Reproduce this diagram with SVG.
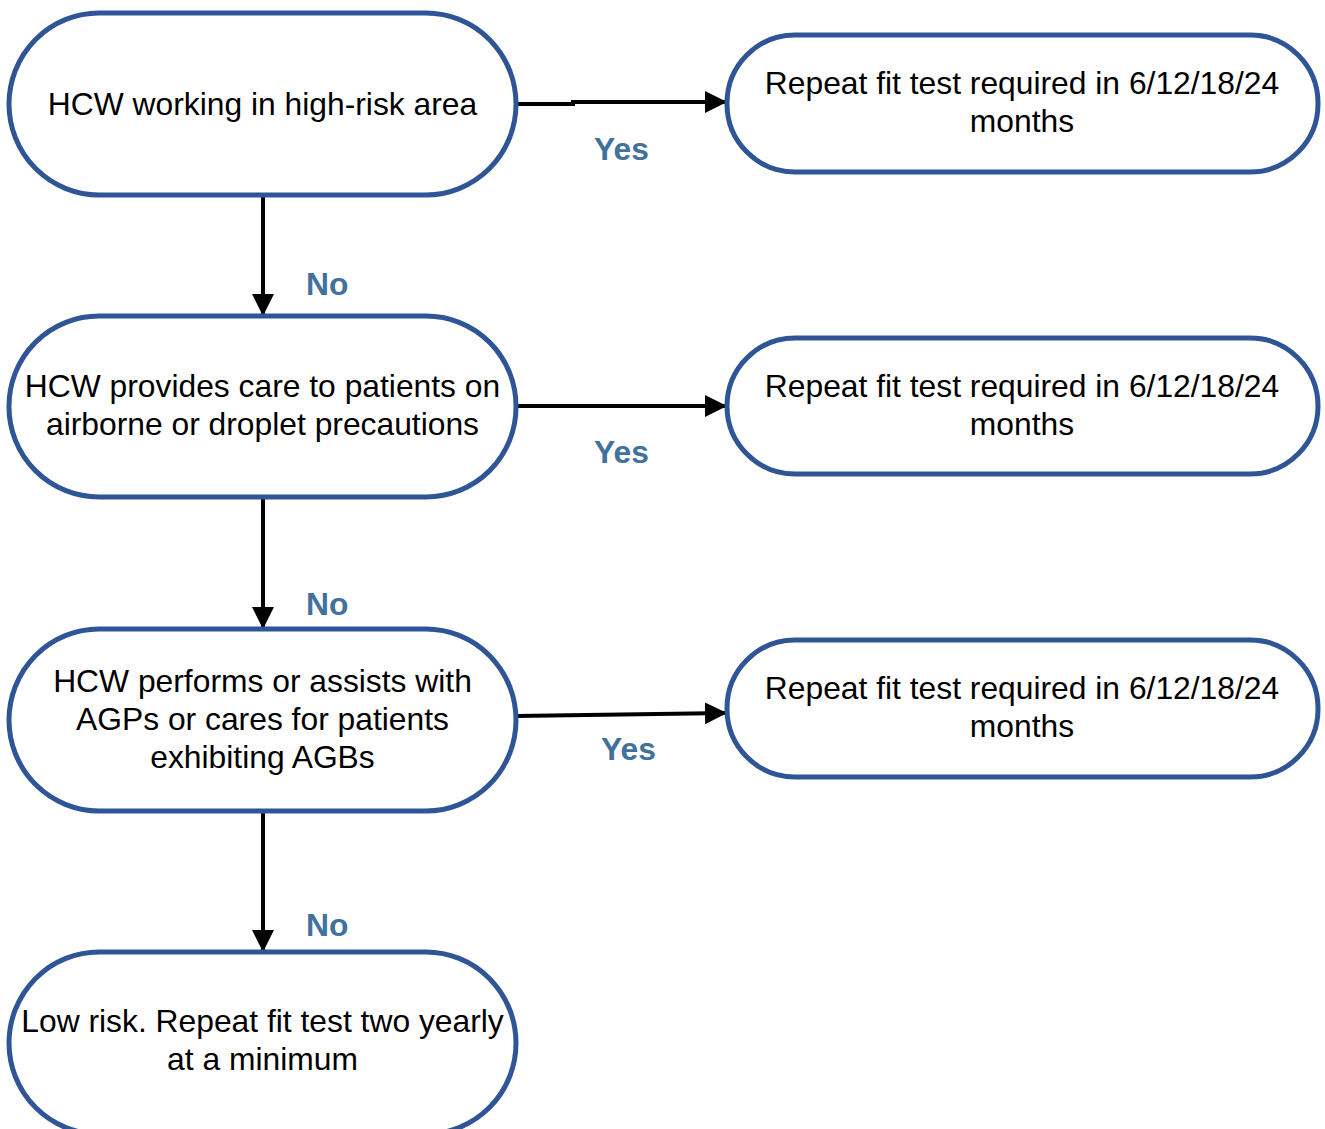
<svg xmlns="http://www.w3.org/2000/svg" width="1325" height="1129" viewBox="0 0 1325 1129">
<defs>
<marker id="ah" markerUnits="userSpaceOnUse" markerWidth="24" markerHeight="24" refX="22" refY="11" orient="auto">
<path d="M0,0 L22,11 L0,22 Z" fill="#000"/>
</marker>
<style>
.node{fill:#fff;stroke:#2F5597;stroke-width:5}
.t{font-family:"Liberation Sans",Arial,sans-serif;font-size:31.8px;fill:#000;text-anchor:middle}
.lbl{font-family:"Liberation Sans",Arial,sans-serif;font-size:31.8px;font-weight:bold;fill:#41719C}
.c{fill:none;stroke:#000;stroke-width:4;marker-end:url(#ah)}
</style>
</defs>
<rect width="1325" height="1129" fill="#fff"/>
<g id="connectors">
<path class="c" d="M516,104 H573 V102 H727"/>
<path class="c" d="M263,195 V316"/>
<path class="c" d="M516,406 H727"/>
<path class="c" d="M263,497 V629"/>
<path class="c" d="M516,716 L727,713"/>
<path class="c" d="M263,811 V952"/>
<text class="lbl" x="594" y="160">Yes</text>
<text class="lbl" x="306" y="295">No</text>
<text class="lbl" x="594" y="463">Yes</text>
<text class="lbl" x="306" y="615">No</text>
<text class="lbl" x="601" y="760">Yes</text>
<text class="lbl" x="306" y="936">No</text>
</g>
<g id="n1">
<rect class="node" x="9" y="13" width="507" height="182" rx="90" ry="91"/>
<text class="t" x="262.5" y="115">HCW working in high-risk area</text>
</g>
<g id="r1">
<rect class="node" x="727" y="35" width="591" height="137" rx="68" ry="68"/>
<text class="t" x="1022" y="94">Repeat fit test required in 6/12/18/24</text>
<text class="t" x="1022" y="132">months</text>
</g>
<g id="n2">
<rect class="node" x="9" y="316" width="507" height="181" rx="90" ry="90"/>
<text class="t" x="262.5" y="397">HCW provides care to patients on</text>
<text class="t" x="262.5" y="435">airborne or droplet precautions</text>
</g>
<g id="r2">
<rect class="node" x="727" y="338" width="591" height="136" rx="68" ry="68"/>
<text class="t" x="1022" y="397">Repeat fit test required in 6/12/18/24</text>
<text class="t" x="1022" y="435">months</text>
</g>
<g id="n3">
<rect class="node" x="9" y="629" width="507" height="182" rx="90" ry="91"/>
<text class="t" x="262.5" y="692">HCW performs or assists with</text>
<text class="t" x="262.5" y="730">AGPs or cares for patients</text>
<text class="t" x="262.5" y="768">exhibiting AGBs</text>
</g>
<g id="r3">
<rect class="node" x="727" y="640" width="591" height="137" rx="68" ry="68"/>
<text class="t" x="1022" y="699">Repeat fit test required in 6/12/18/24</text>
<text class="t" x="1022" y="737">months</text>
</g>
<g id="n4">
<rect class="node" x="9" y="952" width="507" height="182" rx="90" ry="91"/>
<text class="t" x="262.5" y="1032">Low risk. Repeat fit test two yearly</text>
<text class="t" x="262.5" y="1070">at a minimum</text>
</g>
</svg>
